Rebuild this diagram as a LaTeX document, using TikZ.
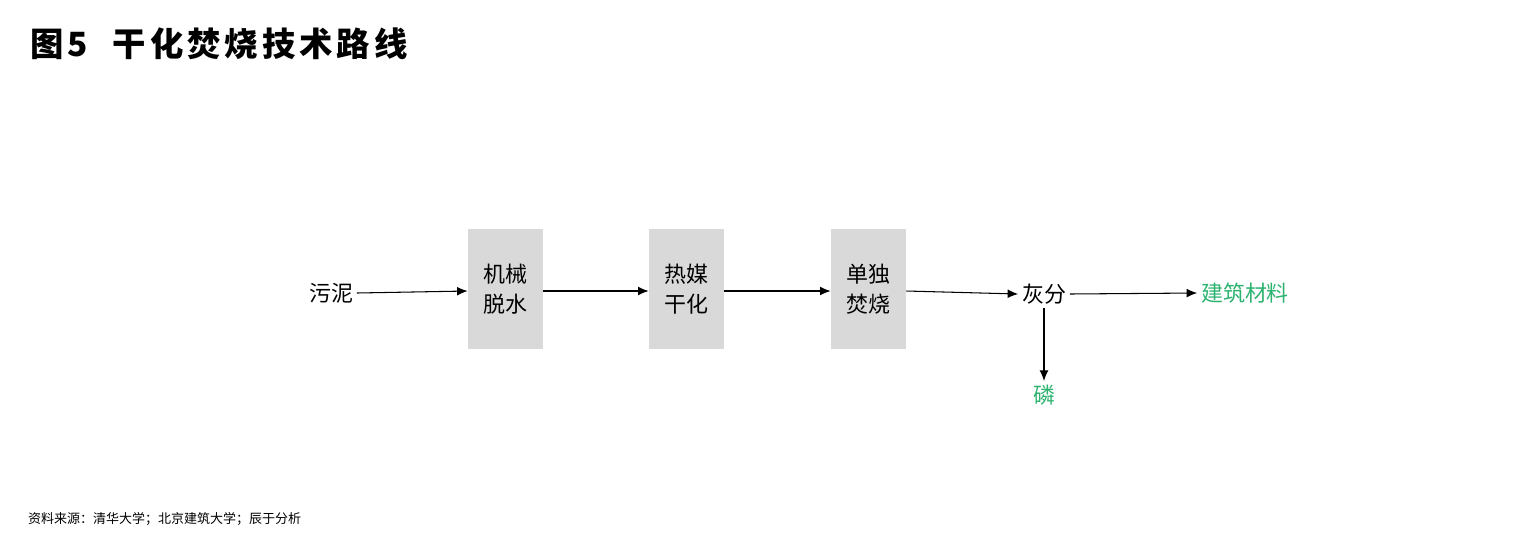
\documentclass[tikz,border=0pt]{standalone}
\usepackage{fontspec}
\setmainfont{Noto Sans CJK SC}
\usetikzlibrary{arrows.meta}
\definecolor{boxgray}{HTML}{D9D9D9}
\definecolor{grn}{HTML}{2DB370}
\begin{document}
\begin{tikzpicture}[x=0.02cm,y=-0.02cm,
  stepbox/.style={fill=boxgray,minimum width=75*0.02cm,minimum height=120*0.02cm,inner sep=0pt,font=\fontsize{12.5}{17}\selectfont,align=center},
  lbl/.style={font=\fontsize{12.5}{15}\selectfont,inner sep=2pt},
  arr/.style={-{Latex[length=6pt,width=5pt]},line width=0.6pt}]
\useasboundingbox (0,0) rectangle (1536,539);
\node[anchor=west,inner sep=0pt,font=\fontsize{19}{20}\bfseries\selectfont\addfontfeature{LetterSpace=12}] (title) at (30,44) {图5\hspace{14pt}干化焚烧技术路线};
\node (src) [lbl] at (331,293) {污泥};
\node (b1) [stepbox] at (505.5,289) {机械\\脱水};
\node (b2) [stepbox] at (686.5,289) {热媒\\干化};
\node (b3) [stepbox] at (868.5,289) {单独\\焚烧};
\node (ash) [lbl] at (1044,294) {灰分};
\node (mat) [lbl,text=grn] at (1245,293) {建筑材料};
\node (p) [lbl,text=grn] at (1044,395) {磷};
\draw[arr] (src.east) -- (b1.west|-0,291);
\draw[arr] (b1.east|-0,291) -- (b2.west|-0,291);
\draw[arr] (b2.east|-0,291) -- (b3.west|-0,291);
\draw[arr] (b3.east|-0,291) -- (ash.west);
\draw[arr] (ash.east) -- (mat.west);
\draw[arr] (ash.south) -- (p.north);
\node[anchor=west,font=\fontsize{7.4}{8}\selectfont] (foot) at (22,519) {资料来源：清华大学；北京建筑大学；辰于分析};
\end{tikzpicture}
\end{document}
